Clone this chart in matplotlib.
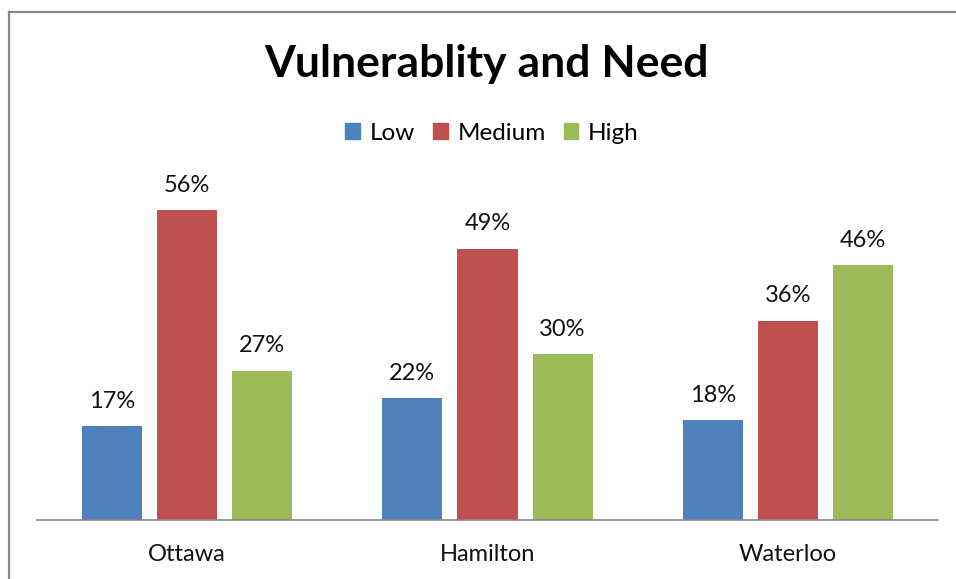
import numpy as np
import matplotlib.pyplot as plt
from matplotlib.lines import Line2D
from matplotlib.patches import Patch

plt.rcParams['font.family'] = ['Lato', 'DejaVu Sans']

cities = ['Ottawa', 'Hamilton', 'Waterloo']
levels = ['Low', 'Medium', 'High']
low = [17, 22, 18]
medium = [56, 49, 36]
high = [27, 30, 46]
colors = ['#4f81bd', '#c0504d', '#9bbb59']

W, H = 956, 579
fig = plt.figure(figsize=(W / 100, H / 100), dpi=100)
ax = fig.add_axes([37 / W, (H - 520) / H, (938 - 37) / W, (520 - 188) / H])

x = np.arange(len(cities))
width = 0.2
for i, (vals, name) in enumerate(zip([low, medium, high], levels)):
    pos = x + (i - 1) * 0.25
    ax.bar(pos, vals, width, color=colors[i], label=name)
    for p, v in zip(pos, vals):
        ax.text(p, v + 2.6, f'{v}%', ha='center', va='bottom', fontsize=17, color='#111111')

ax.set_xlim(-0.5, 2.5)
ax.set_ylim(0, 60)
ax.set_yticks([])
ax.set_xticks(x)
ax.set_xticklabels(cities, fontsize=17, color='#111111')
ax.tick_params(axis='x', length=0, pad=17)
for s in ['top', 'right', 'left']:
    ax.spines[s].set_visible(False)
ax.spines['bottom'].set_color('#888888')
ax.spines['bottom'].set_linewidth(1.2)

fig.text(487 / W, 1 - 63.5 / H, 'Vulnerablity and Need', ha='center', va='center',
         fontsize=32, fontweight='bold')

handles = [Patch(color=c) for c in colors]
fig.legend(handles, levels, loc='center', bbox_to_anchor=(492 / W, 1 - 133 / H),
           ncol=3, frameon=False, fontsize=17.5, handlelength=0.6, handleheight=0.6,
           handletextpad=0.4, columnspacing=0.75)

# frame around the chart area (left and top edges)
fig.add_artist(Line2D([8.5 / W, 8.5 / W], [0, 1 - 11.5 / H], transform=fig.transFigure,
                      color='#888888', linewidth=1.6))
fig.add_artist(Line2D([8.5 / W, 1], [1 - 11.5 / H, 1 - 11.5 / H], transform=fig.transFigure,
                      color='#888888', linewidth=1.6))

fig.savefig('out.png', dpi=100, facecolor='white')
